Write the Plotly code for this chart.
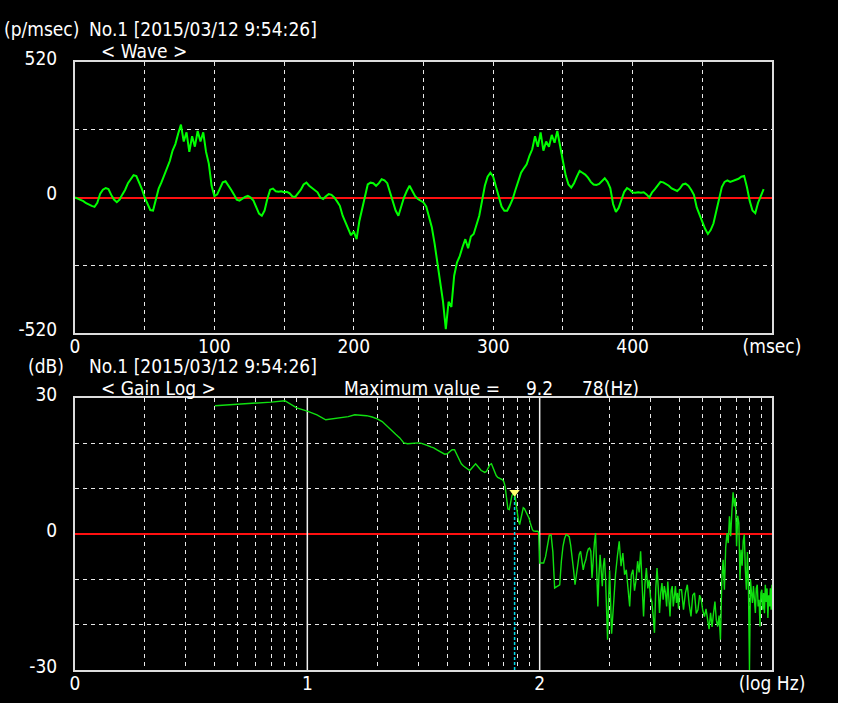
import plotly.graph_objects as go

W, H = 838, 703

# ---------------- data ----------------
title_text = "No.1 [2015/03/12 9:54:26]"

wave_time_ms = list(range(0, 496, 2))
wave_values = [
    0, -4, -8, -14, -22, -28, -32, -36, -20, 14,
    30, 36, 32, 10, -8, -18, -8, 12, 30, 55,
    70, 86, 82, 60, 32, 0, -25, -48, -50, -12,
    34, 58, 85, 118, 140, 180, 205, 245, 280, 215,
    250, 175, 235, 195, 255, 215, 250, 175, 130, 45,
    5, 12, 35, 58, 62, 48, 30, 12, -8, -12,
    -4, 2, 6, 0, -12, -36, -62, -70, -50, -5,
    30, 34, 24, 22, 24, 20, 22, 16, 4, 2,
    16, 30, 50, 57, 45, 36, 30, 20, 0, -6,
    5, 13, 10, 0, -15, -32, -70, -95, -115, -145,
    -130, -160, -90, -40, 10, 50, 57, 55, 45, 55,
    70, 66, 55, 20, -20, -50, -70, -32, 0, 25,
    45, 25, 5, -6, -14, -19, -35, -80, -115, -178,
    -255, -330, -400, -505, -400, -420, -300, -250, -225, -190,
    -160, -195, -150, -140, -105, -70, -13, 45, 80, 95,
    80, 40, -5, -35, -51, -51, -30, -5, 30, 65,
    95, 112, 127, 160, 185, 235, 195, 250, 180, 215,
    195, 240, 210, 255, 190, 140, 85, 50, 38, 55,
    80, 102, 95, 88, 76, 60, 50, 48, 52, 65,
    74, 60, 36, -25, -55, -40, -5, 22, 36, 30,
    19, 18, 20, 18, 20, 12, 0, 20, 32, 48,
    60, 58, 53, 45, 35, 30, 25, 35, 50, 53,
    45, 30, 10, -38, -65, -95, -120, -140, -125, -100,
    -55, -10, 40, 60, 66, 60, 63, 66, 72, 80,
    83, 40, -13, -50, -60, -20, 10, 32,
]

spec_freq_hz = (list(range(4, 101)) + list(range(102, 201, 2))
                + list(range(204, 401, 4)) + list(range(408, 1001, 8)))
spec_gain_db = [
    # 4 .. 100 Hz
    28.3, 28.6, 28.9, 29.1, 29.4, 27.8, 27.1, 26.3, 25.2, 25.4,
    25.6, 25.9, 26.3, 26.2, 26.1, 25.8, 25.4, 24.8, 23.9, 23.0,
    22.0, 21.2, 20.1, 19.9, 20.0, 20.1, 20.1, 20.0, 19.8, 19.5,
    19.2, 19.0, 18.6, 18.2, 17.9, 17.6, 17.7, 18.2, 18.6, 18.6,
    17.5, 16.5, 15.5, 15.0, 14.6, 14.2, 14.0, 14.5, 15.0, 15.5,
    15.0, 14.4, 14.0, 13.8, 13.6, 13.8, 14.6, 15.3, 15.5, 14.5,
    13.5, 12.9, 12.5, 12.3, 12.1, 12.0, 11.6, 10.5, 8.0, 5.5,
    5.4, 7.0, 8.5, 9.0, 9.2, 7.0, 4.5, 3.0, 2.1, 3.5,
    5.0, 5.8, 5.6, 5.0, 4.6, 4.2, 3.5, 2.5, 1.6, 1.0,
    0.7, 0.6, 0.6, 0.6, 0.6, 0.4, -6.4,
    # 102 .. 200 Hz
    -6.4, -6.4, -5.0, -2.5, -0.3, -0.2, -4.0, -11.9, -11.6, -11.4,
    -11.2, -6.0, -2.7, -1.0, -0.1, -0.3, -0.6, -2.5, -4.9, -8.0,
    -11.2, -9.0, -6.0, -4.5, -3.8, -5.5, -7.9, -6.5, -5.7, -4.2,
    -3.3, -3.1, -3.8, -9.7, -5.0, -2.0, 0.2, -6.8, -16.0, -9.0,
    -4.6, -8.0, -11.5, -7.0, -5.3, -9.5, -15.0, -23.3, -14.5, -8.0,
    # 204 .. 400 Hz
    -22.0, -14.5, -9.0, -4.9, -1.6, -7.1, -4.2, -9.0, -7.9, -12.0,
    -16.0, -9.0, -7.9, -12.5, -10.1, -6.0, -8.5, -3.8, -12.0, -18.2,
    -11.0, -7.5, -12.0, -10.1, -14.0, -14.9, -18.0, -21.8, -12.0, -7.5,
    -12.0, -17.4, -13.0, -10.8, -14.5, -11.5, -13.0, -16.0, -10.5, -14.0,
    -18.2, -12.5, -11.5, -16.0, -13.5, -11.5, -15.2, -13.0, -16.5, -12.3,
    # 408 .. 1000 Hz
    -12.3, -16.7, -13.0, -11.2, -15.5, -18.2, -13.5, -13.0, -17.5, -16.7,
    -13.5, -14.5, -17.0, -18.2, -16.5, -18.9, -21.0, -17.4, -20.5, -17.5,
    -14.9, -19.0, -20.4, -18.0, -23.3, -10.1, -5.7, -12.3, -3.0, 0.2,
    -2.0, 3.9, -0.5, 5.0, 9.2, 6.1, 8.0, -2.7, 4.0, 2.4,
    -10.1, -3.5, -7.0, -1.5, -0.1, -8.0, -12.3, -4.0, -12.0, -30.0,
    -10.1, -13.0, -15.2, -11.5, -14.0, -17.4, -12.0, -11.2, -16.0, -14.5,
    -20.4, -13.0, -12.3, -16.7, -13.0, -17.5, -11.2, -15.0, -12.0, -18.5,
    -13.5, -16.0, -12.0, -16.7, -11.2,
]

max_freq_hz = 78
max_gain_db = 9.2

wave_range = [-520, 520]
wave_yticks = [-520, -260, 0, 260, 520]
wave_yticktext = ["-520", "", "0", "", "520"]
wave_xticks = list(range(0, 501, 50))
wave_xticktext = ["0", "", "100", "", "200", "", "300", "", "400", "", "(msec)"]

gain_range = [-30, 30]
gain_yticks = [-30, -20, -10, 0, 10, 20, 30]
gain_yticktext = ["-30", "", "", "0", "", "", "30"]
decades_hz = [10, 100]
gain_xticks = ([1, 2, 3, 4, 5, 6, 7, 8, 9, 10, 20, 30, 40, 50, 60, 70, 80, 90,
                100, 200, 300, 400, 500, 600, 700, 800, 900, 1000])
gain_xticktext = (["0"] + [""] * 8 + ["1"] + [""] * 8 + ["2"] + [""] * 8 + ["(log Hz)"])

assert len(wave_values) == len(wave_time_ms)
assert len(spec_gain_db) == len(spec_freq_hz)

# ---------------- styling ----------------
FONT = "Liberation Sans Narrow, DejaVu Sans Condensed, Arial Narrow, sans-serif"
FS = 19
WHITE = "#ffffff"
GRID = "#e8e8e8"
DASH = "4px,4px"


def px(x):
    return x / W


def py(y):
    return 1 - y / H


fig = go.Figure()

fig.add_trace(go.Scatter(x=wave_time_ms, y=wave_values, mode="lines",
                         line=dict(color="#00ff00", width=2),
                         xaxis="x", yaxis="y", hoverinfo="skip"))

decade_x, decade_y = [], []
for d in decades_hz:
    decade_x += [d, d, None]
    decade_y += [gain_range[0], gain_range[1], None]
fig.add_trace(go.Scatter(x=decade_x, y=decade_y, mode="lines",
                         line=dict(color="#f0f0f0", width=1.5),
                         xaxis="x2", yaxis="y2", hoverinfo="skip"))

fig.add_trace(go.Scatter(x=[max_freq_hz, max_freq_hz], y=[gain_range[0], max_gain_db],
                         mode="lines", line=dict(color="#00d8e8", width=1.5, dash="3px,2px"),
                         xaxis="x2", yaxis="y2", hoverinfo="skip"))

fig.add_trace(go.Scatter(x=spec_freq_hz, y=spec_gain_db, mode="lines",
                         line=dict(color="#10e010", width=1.4),
                         xaxis="x2", yaxis="y2", hoverinfo="skip"))

fig.add_trace(go.Scatter(x=[max_freq_hz], y=[max_gain_db], mode="markers",
                         marker=dict(symbol="triangle-down", size=9, color="#ffff70",
                                     line=dict(width=0)),
                         xaxis="x2", yaxis="y2", hoverinfo="skip"))

axis_common = dict(showgrid=True, gridcolor=GRID, griddash=DASH, gridwidth=1,
                   showline=True, linecolor="#dcdcdc", linewidth=2, mirror=True,
                   ticks="", tickfont=dict(family=FONT, size=FS, color=WHITE),
                   tickmode="array", automargin=False, fixedrange=True)

xdom = [px(75), px(772)]

fig.update_layout(
    width=W, height=H,
    margin=dict(l=0, r=0, t=0, b=0),
    paper_bgcolor="#000000", plot_bgcolor="#000000",
    showlegend=False,
    xaxis=dict(axis_common, domain=xdom, anchor="y", range=[0, 500],
               tickvals=wave_xticks, ticktext=wave_xticktext, zeroline=False,
               ticklabelstandoff=-5),
    yaxis=dict(axis_common, domain=[py(333), py(62)], anchor="x", range=wave_range,
               tickvals=wave_yticks, ticktext=wave_yticktext,
               zeroline=True, zerolinecolor="#ff1010", zerolinewidth=1.6,
               ticklabelstandoff=12, ticklabelshift=-4),
    xaxis2=dict(axis_common, domain=xdom, anchor="y2", type="log", range=[0, 3],
                tickvals=gain_xticks, ticktext=gain_xticktext, zeroline=False,
                ticklabelstandoff=-5),
    yaxis2=dict(axis_common, domain=[py(670), py(398)], anchor="x2", range=gain_range,
                tickvals=gain_yticks, ticktext=gain_yticktext,
                zeroline=True, zerolinecolor="#ff1010", zerolinewidth=1.6,
                ticklabelstandoff=12, ticklabelshift=-4),
)

texts = [
    ("(p/msec)", 3, 29),
    (title_text, 88, 29),
    ("< Wave >", 100, 51),
    ("(dB)", 27, 366),
    (title_text, 88, 366),
    ("< Gain Log >", 100, 388),
    ("Maximum value =", 343, 388),
    (f"{max_gain_db}", 525, 388),
    (f"{max_freq_hz}(Hz)", 581, 388),
]
for t, x, y in texts:
    fig.add_annotation(text=t, x=px(x), y=py(y), xref="paper", yref="paper",
                       xanchor="left", yanchor="middle", showarrow=False, borderpad=0,
                       font=dict(family=FONT, size=FS, color=WHITE))

fig.write_html("out.html", config={"displayModeBar": False},
               post_script="document.body.style.margin='0px';")
